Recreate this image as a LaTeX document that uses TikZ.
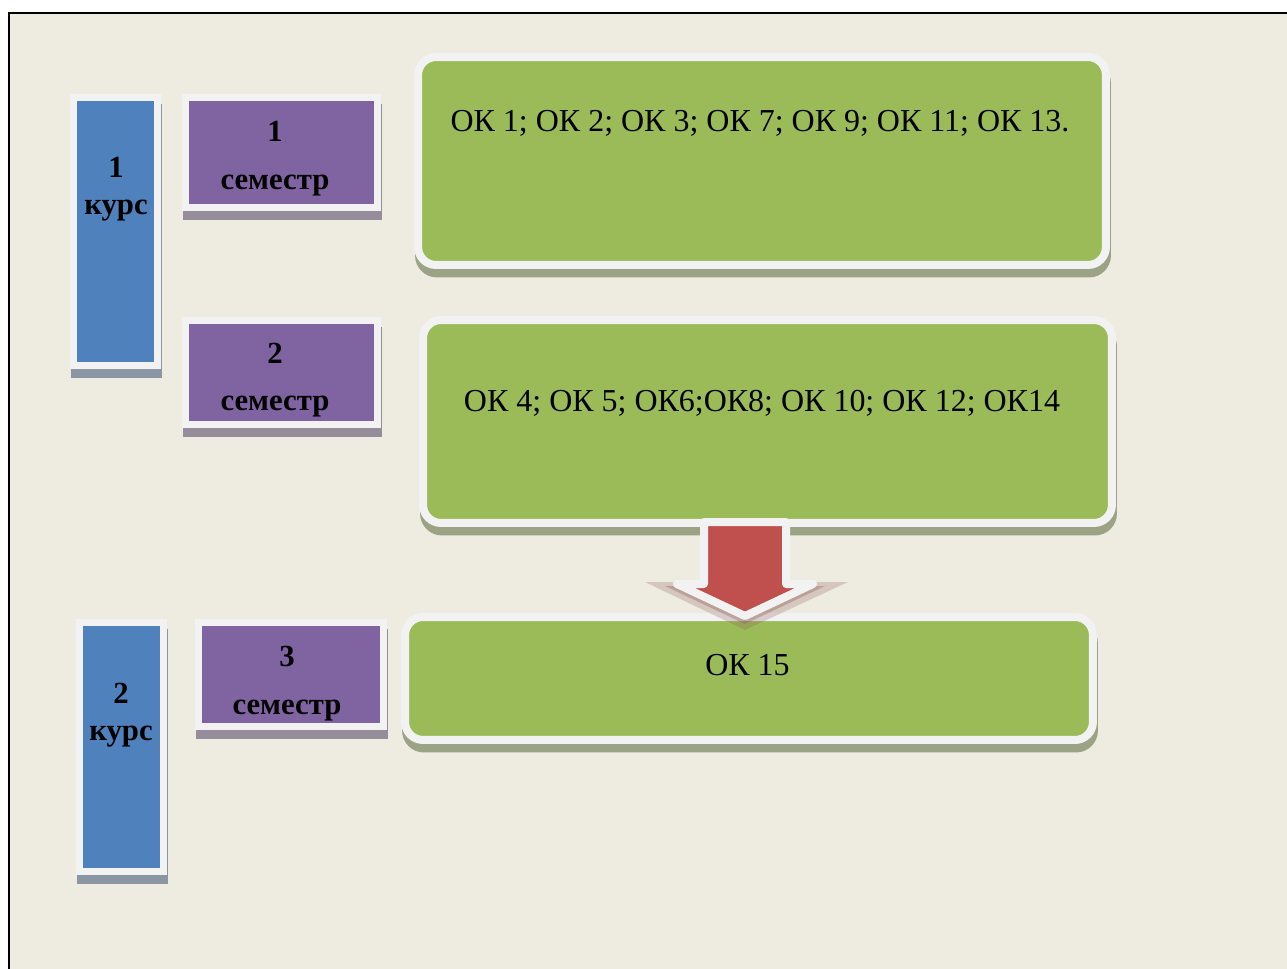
\documentclass[tikz,border=0pt]{standalone}
\usepackage{fontspec}
\setmainfont{Liberation Serif}
\usepackage{xcolor}
\usetikzlibrary{shadows}
\definecolor{paper}{HTML}{EEECE1}
\definecolor{rim}{HTML}{F2F2F2}
\definecolor{kblue}{HTML}{4F81BD}
\definecolor{kblueshade}{HTML}{8A96A3}
\definecolor{sviolet}{HTML}{8064A2}
\definecolor{svioletshade}{HTML}{968D9B}
\definecolor{okgreen}{HTML}{9BBB59}
\definecolor{okgreenshade}{HTML}{9BA384}
\definecolor{arrred}{HTML}{C0504D}
\definecolor{arrshade}{HTML}{8C5A58}

\begin{document}
\begin{tikzpicture}[x=0.02cm, y=-0.02cm,
  kurs/.style={draw=rim, line width=0.14cm, fill=kblue, minimum width=1.68cm,
    drop shadow={shadow xshift=0.02cm, shadow yshift=-0.19cm, opacity=1, fill=kblueshade, draw=kblueshade}},
  sem/.style={draw=rim, line width=0.14cm, fill=sviolet,
    drop shadow={shadow xshift=0.02cm, shadow yshift=-0.19cm, opacity=1, fill=svioletshade, draw=svioletshade}},
  okbox/.style={draw=rim, line width=0.16cm, fill=okgreen, rounded corners=0.36cm, minimum width=13.76cm,
    drop shadow={shadow xshift=0.02cm, shadow yshift=-0.17cm, opacity=1, fill=okgreenshade, draw=okgreenshade}},
  kurstext/.style={font=\fontsize{17.5}{21}\selectfont\bfseries, align=center, inner sep=0pt},
  semtext/.style={font=\fontsize{17.5}{27}\selectfont\bfseries, align=center, inner sep=0pt},
  oktext/.style={font=\fontsize{18.2}{22}\selectfont, anchor=base, inner sep=0pt},
  arrow/.style={draw=rim, line width=0.16cm, fill=arrred, line join=round}]
  \clip (0,0) rectangle (1287,969);
  \fill[white] (0,0) rectangle (1287,969);
  \fill[paper] (9,13) rectangle (1300,980);
  \draw[black, line width=0.04cm] (9,980) -- (9,13) -- (1300,13);

  % first year
  \node[kurs, minimum height=5.36cm] (k1) at (115.5,231.5) {};
  \node[sem, minimum width=3.84cm, minimum height=2.2cm] (s1) at (281.5,152.5) {};
  \node[sem, minimum width=3.84cm, minimum height=2.08cm] (s2) at (281.5,372.5) {};
  \node[okbox, minimum height=4.16cm] (g1) at (762,161) {};
  \node[okbox, minimum width=13.78cm, minimum height=4.06cm] (g2) at (767.5,421.5) {};

  % second year
  \node[kurs, minimum height=4.98cm] (k2) at (121.5,747) {};
  \node[sem, minimum width=3.7cm, minimum height=2.08cm] (s3) at (291,674.5) {};
  \node[okbox, minimum height=2.46cm] (g3) at (749,678.5) {};

  \node[kurstext] (k1t) at (116,189) {1\\курс};
  \node[kurstext] (k2t) at (121,715) {2\\курс};
  \node[semtext] (s1t) at (275,158.5) {1\\семестр};
  \node[semtext] (s2t) at (275,380) {2\\семестр};
  \node[semtext] (s3t) at (287,683.5) {3\\семестр};
  \node[oktext] (g1t) at (760,132) {ОК 1; ОК 2; ОК 3; ОК 7; ОК 9; ОК 11; ОК 13.};
  \node[oktext] (g2t) at (762,411) {ОК 4; ОК 5; ОК6;ОК8; ОК 10; ОК 12; ОК14};
  \node[oktext] (g3t) at (747.5,675) {ОК 15};

  % block arrow from g2 down to g3
  \coordinate (atop) at (745,522);
  \begin{scope}[shift={(atop)}]
    \fill[arrshade, opacity=0.25] (-100,60) -- (0,108) -- (103,60) -- cycle;
    \fill[arrshade, opacity=0.35] (-80,64) -- (0,102) -- (80,64) -- cycle;
    \draw[arrow] (-41,0) -- (-41,62) -- (-68,62) -- (0,94) -- (68,62) -- (41,62) -- (41,0) -- cycle;
  \end{scope}
\end{tikzpicture}
\end{document}
